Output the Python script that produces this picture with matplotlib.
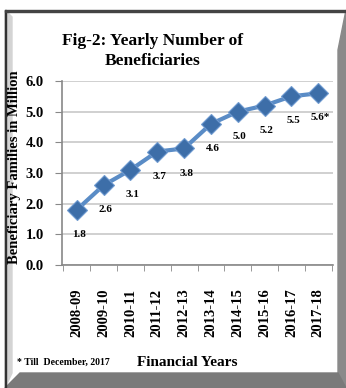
import matplotlib.pyplot as plt
from matplotlib.patches import Rectangle, Polygon

# data
years = ['2008-09', '2009-10', '2010-11', '2011-12', '2012-13',
         '2013-14', '2014-15', '2015-16', '2016-17', '2017-18']
beneficiaries = [1.8, 2.6, 3.1, 3.7, 3.8, 4.6, 5.0, 5.2, 5.5, 5.6]
point_labels = ['1.8', '2.6', '3.1', '3.7', '3.8', '4.6', '5.0', '5.2', '5.5', '5.6*']
yticks = [0.0, 1.0, 2.0, 3.0, 4.0, 5.0, 6.0]

plt.rcParams['font.family'] = ['Liberation Serif', 'DejaVu Serif']

W, H = 346, 388
fig = plt.figure(figsize=(W / 100, H / 100), dpi=100)
fig.patch.set_facecolor('white')

def px(x, y):
    return x / W, 1 - y / H

# frame (bevelled border), drawn under the axes
frame = [
    Polygon([px(5, 10), px(12, 17), px(12, 373), px(5, 388)], closed=True, color='#d4d4d4'),
    Polygon([px(346, 10), px(338, 50), px(338, 373), px(346, 388)], closed=True, color='#8a8a8a'),
    Polygon([px(5, 388), px(20, 373), px(338, 373), px(346, 388)], closed=True, color='#7a7a7a'),
    Rectangle(px(5, 388), 1.5 / W, 378 / H, color='#333333'),
    Rectangle(px(5, 11.5), 341 / W, 2 / H, color='#444444'),
]
for p in frame:
    p.set_transform(fig.transFigure)
    p.set_zorder(-1)
    fig.patches.append(p)

ax = fig.add_axes([62 / W, 1 - 265 / H, 271 / W, 184 / H])
ax.patch.set_alpha(0)
x = list(range(len(years)))
ax.plot(x, beneficiaries, color='#5a8cc6', lw=3, marker='D', markersize=10,
        markerfacecolor='#3d6ea8', markeredgecolor='#6f9ad0', markeredgewidth=0.8, zorder=3)

for xi, yi, lab in zip(x, beneficiaries, point_labels):
    ax.text(xi + 0.08, yi - 0.8, lab, fontsize=8, fontweight='bold', ha='center', va='center')

ax.set_xlim(-0.55, 9.55)
ax.set_ylim(0, 6.0)
ax.set_yticks(yticks)
ax.set_yticklabels([f'{v:.1f}' for v in yticks], fontsize=10.5, fontweight='bold')
ax.set_xticks(x)
ax.set_xticklabels(years, rotation=90, fontsize=10.5, fontweight='bold')
ax.set_xticks([i + 0.5 for i in range(-1, 10)], minor=True)
ax.tick_params(axis='x', which='major', length=0, pad=17)
ax.tick_params(axis='x', which='minor', length=4, color='#888888', direction='out')
ax.tick_params(axis='y', length=5, color='#888888', pad=8)
ax.grid(axis='y', color='#c8c8c8', lw=1.2)
ax.set_axisbelow(True)
for s in ['top', 'right']:
    ax.spines[s].set_visible(False)
for s in ['left', 'bottom']:
    ax.spines[s].set_color('#888888')
    ax.spines[s].set_linewidth(1.2)

ax.set_ylabel('Beneficiary Families in Million', fontsize=10.5, fontweight='bold')
ax.yaxis.set_label_coords(-41 / 271, 0.53)

fig.text(153 / W, 1 - 51 / H, 'Fig-2: Yearly Number of\nBeneficiaries', fontsize=12.5,
         fontweight='bold', ha='center', va='center', linespacing=1.3)
fig.text(187 / W, 1 - 362 / H, 'Financial Years', fontsize=11, fontweight='bold',
         ha='center', va='center')
fig.text(17 / W, 1 - 362 / H, '* Till  December, 2017', fontsize=7, fontweight='bold',
         ha='left', va='center')

fig.savefig('out.png', dpi=100)
